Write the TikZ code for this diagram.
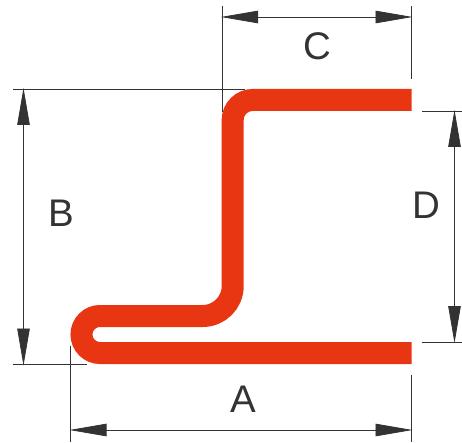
\documentclass[tikz,border=0pt]{standalone}
\usepackage{fontspec}
\setmainfont{Liberation Sans}
\usetikzlibrary{arrows.meta}
\definecolor{stripred}{HTML}{E83613}
\definecolor{dimgray}{HTML}{333333}
\tikzset{
  strip/.style={draw=stripred,line width=22pt,line cap=butt},
  dimline/.style={draw=dimgray,line width=0.8pt,shorten <=-1pt,shorten >=-1pt,{Triangle[length=37pt,width=12.5pt]}-{Triangle[length=37pt,width=12.5pt]}},
  extline/.style={draw=dimgray,line width=0.7pt},
  dimlabel/.style={text=dimgray,font=\fontsize{38.5}{38.5}\selectfont,inner sep=0pt}
}
\begin{document}
\begin{tikzpicture}[x=1pt,y=1pt]
\useasboundingbox (0,0) rectangle (462,442);

\coordinate (S1) at (411.5,342);
\coordinate (S2) at (252.7,342);
\coordinate (S3) at (232.7,156);
\coordinate (S4) at (100,126);
\coordinate (S5) at (411.5,89);

\draw[strip] (S1) -- (S2) arc (90:180:20pt) -- (S3) arc (0:-90:30pt) -- (S4) arc (90:270:18.5pt) -- (S5);

%A
\coordinate (Al) at (70.5,12);
\coordinate (Ar) at (411.5,12);
\coordinate (Alt) at (70.5,96);
\coordinate (Alb) at (70.5,0);
\coordinate (Art) at (411.5,67);
\coordinate (Arb) at (411.5,0);
\draw[extline] (Alt) -- (Alb);
\draw[extline] (Art) -- (Arb);
\draw[dimline] (Al) -- (Ar);
\node[dimlabel] (A) at (243,43) {A};

%B
\coordinate (Bt) at (23.5,353);
\coordinate (Bb) at (23.5,77.5);
\coordinate (Btl) at (13,353);
\coordinate (Btr) at (245,353);
\coordinate (Bbl) at (13,77.5);
\coordinate (Bbr) at (87,77.5);
\draw[extline] (Btl) -- (Btr);
\draw[extline] (Bbl) -- (Bbr);
\draw[dimline] (Bt) -- (Bb);
\node[dimlabel] (B) at (61.5,229) {B};

%C
\coordinate (Cl) at (222,425);
\coordinate (Cr) at (411.5,425);
\coordinate (Clt) at (222,436);
\coordinate (Clb) at (222,330);
\coordinate (Crt) at (411.5,436);
\coordinate (Crb) at (411.5,363);
\draw[extline] (Clt) -- (Clb);
\draw[extline] (Crt) -- (Crb);
\draw[dimline] (Cl) -- (Cr);
\node[dimlabel] (C) at (317.5,396) {C};

%D
\coordinate (Dt) at (454.5,331);
\coordinate (Db) at (454.5,100);
\coordinate (Dtl) at (422,331);
\coordinate (Dtr) at (462,331);
\coordinate (Dbl) at (422,100);
\coordinate (Dbr) at (462,100);
\draw[extline] (Dtl) -- (Dtr);
\draw[extline] (Dbl) -- (Dbr);
\draw[dimline] (Dt) -- (Db);
\node[dimlabel] (D) at (426,237) {D};

\end{tikzpicture}
\end{document}
